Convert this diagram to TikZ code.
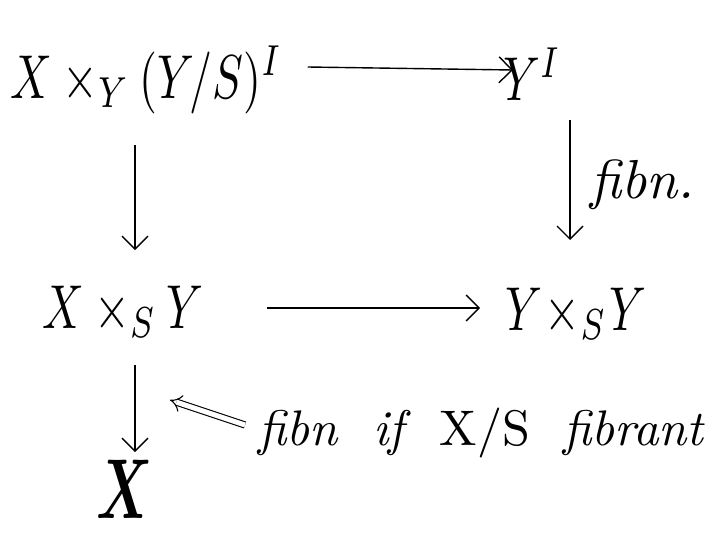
\documentclass[tikz,border=0pt]{standalone}
\usepackage{bm}
\usetikzlibrary{arrows.meta}
\begin{document}
\begin{tikzpicture}[x=1pt,y=-1pt,
  obj/.style={inner sep=0pt, anchor=base west},
  lbl/.style={inner sep=0pt, anchor=base west, font=\itshape},
  arr/.style={line width=1.4pt, -{Straight Barb[length=13pt,width=26pt,line width=1.4pt]}},
  dbl/.style={line width=1.1pt, double, double distance=5pt, -{Implies[length=12pt]}}]
\useasboundingbox (0,0) rectangle (718,538);
\node[obj] (A) at (10,98) {\scalebox{4.6}[6.2]{$X\times_Y(Y/S)^I$}};
\node[obj] (B) at (503,100) {\scalebox{4.6}[6.2]{$Y^I$}};
\node[obj] (C) at (42,328) {\scalebox{4.6}[6.2]{$X\times_S Y$}};
\node[obj] (D) at (505,330) {\scalebox{4.6}[6.2]{$Y\!\times_S\! Y$}};
\node[obj, anchor=base] (E) at (125,518) {\scalebox{5.5}[8.5]{$\bm{X}$}};
\node[lbl] (F) at (590,198) {\scalebox{5.5}{fibn.}};
\node[lbl] (G) at (258,445) {\scalebox{5}{fibn\ \ if\ \ \upshape X/S\ \ \itshape fibrant}};
\draw[arr] ([xshift=25pt,yshift=31pt]A.base east) -- ([xshift=10pt,yshift=30pt]B.base west);
\draw[arr] ([xshift=67pt,yshift=-20pt]B.base west) -- ([xshift=65pt,yshift=90pt]D.base west);
\draw[arr] ([xshift=125pt,yshift=-47pt]A.base west) -- ([xshift=93pt,yshift=78pt]C.base west);
\draw[arr] ([xshift=63pt,yshift=20pt]C.base east) -- ([xshift=-25pt,yshift=22pt]D.base west);
\draw[arr] ([xshift=93pt,yshift=-37pt]C.base west) -- ([xshift=10pt,yshift=66pt]E.base);
\draw[dbl] ([xshift=-13pt,yshift=20pt]G.base west) -- ([xshift=-88pt,yshift=45pt]G.base west);
\end{tikzpicture}
\end{document}
